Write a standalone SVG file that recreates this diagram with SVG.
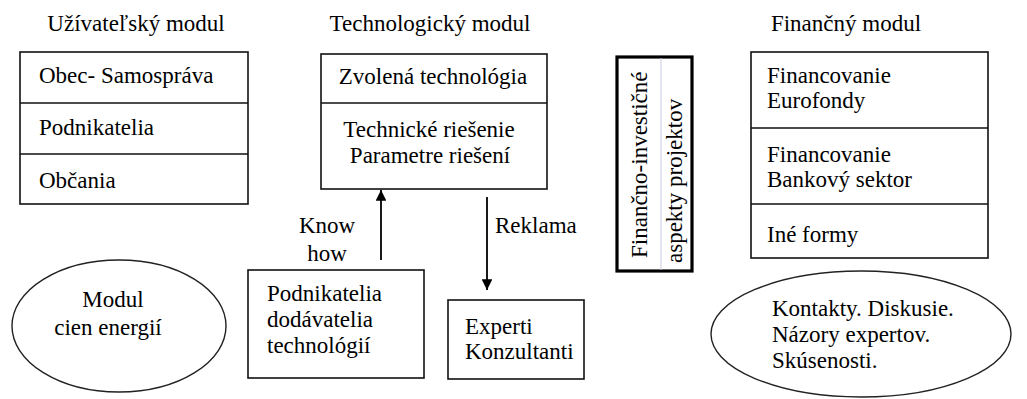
<svg xmlns="http://www.w3.org/2000/svg" width="1027" height="399" viewBox="0 0 1027 399">
  <defs>
    <marker id="head" viewBox="0 0 10 10" refX="10" refY="5" markerWidth="6" markerHeight="6" markerUnits="strokeWidth" orient="auto">
      <path d="M0,0 L10,5 L0,10 z" fill="#000"/>
    </marker>
  </defs>

  <rect width="1027" height="399" fill="#fff"/>

  <!-- module headings -->
  <g id="headings" style="font-family: 'Times New Roman', 'Liberation Serif', serif; font-size: 23px" text-anchor="middle">
    <text x="136" y="31">Užívateľský modul</text>
    <text x="430" y="31">Technologický modul</text>
    <text x="846" y="31">Finančný modul</text>
  </g>

  <!-- user module -->
  <g id="user-module" style="font-family: 'Times New Roman', 'Liberation Serif', serif; font-size: 23px">
    <rect x="20" y="52" width="228" height="152" fill="#fff" stroke="#111" stroke-width="1.6"/>
    <path d="M20,103 H248 M20,154 H248" stroke="#111" stroke-width="1.6"/>
    <text x="39" y="83">Obec- Samospráva</text>
    <text x="39" y="135">Podnikatelia</text>
    <text x="39" y="188">Občania</text>
  </g>

  <!-- technology module -->
  <g id="tech-module" style="font-family: 'Times New Roman', 'Liberation Serif', serif; font-size: 23px" text-anchor="middle">
    <rect x="321" y="54" width="226" height="135" fill="#fff" stroke="#111" stroke-width="1.6"/>
    <path d="M321,103 H547" stroke="#111" stroke-width="1.6"/>
    <text x="433" y="84">Zvolená technológia</text>
    <text x="429" y="137">Technické riešenie</text>
    <text x="430" y="163">Parametre riešení</text>
  </g>

  <!-- finance/investment side label -->
  <g id="finance-aspects" style="font-family: 'Times New Roman', 'Liberation Serif', serif; font-size: 23px">
    <rect x="617" y="57" width="75" height="214" fill="#fff" stroke="#000" stroke-width="3.2"/>
    <path d="M661,58 V270" stroke="#c5cbe0" stroke-width="1"/>
    <text transform="translate(647,258) rotate(-90)">Finančno-investičné</text>
    <text transform="translate(682,263) rotate(-90)">aspekty projektov</text>
  </g>

  <!-- finance module -->
  <g id="finance-module" style="font-family: 'Times New Roman', 'Liberation Serif', serif; font-size: 23px">
    <rect x="751" y="52" width="237" height="206" fill="#fff" stroke="#111" stroke-width="1.6"/>
    <path d="M751,128 H988 M751,204 H988" stroke="#111" stroke-width="1.6"/>
    <text x="767" y="83">Financovanie</text>
    <text x="767" y="108">Eurofondy</text>
    <text x="767" y="162">Financovanie</text>
    <text x="767" y="187">Bankový sektor</text>
    <text x="767" y="242">Iné formy</text>
  </g>

  <!-- energy price module -->
  <g id="energy-prices" style="font-family: 'Times New Roman', 'Liberation Serif', serif; font-size: 23px" text-anchor="middle">
    <ellipse cx="119" cy="326" rx="107" ry="66" fill="#fff" stroke="#222" stroke-width="1.4"/>
    <text x="113" y="307">Modul</text>
    <text x="108" y="335">cien energií</text>
  </g>

  <!-- suppliers -->
  <g id="suppliers" style="font-family: 'Times New Roman', 'Liberation Serif', serif; font-size: 23px">
    <rect x="248" y="270" width="176" height="108" fill="#fff" stroke="#111" stroke-width="1.6"/>
    <text x="267" y="301">Podnikatelia</text>
    <text x="267" y="327">dodávatelia</text>
    <text x="267" y="353">technológií</text>
  </g>

  <!-- experts -->
  <g id="experts" style="font-family: 'Times New Roman', 'Liberation Serif', serif; font-size: 23px">
    <rect x="448" y="300" width="136" height="79" fill="#fff" stroke="#111" stroke-width="1.6"/>
    <text x="465" y="334">Experti</text>
    <text x="465" y="359">Konzultanti</text>
  </g>

  <!-- contacts -->
  <g id="contacts" style="font-family: 'Times New Roman', 'Liberation Serif', serif; font-size: 23px">
    <ellipse cx="861" cy="334" rx="150" ry="63" fill="#fff" stroke="#222" stroke-width="1.4"/>
    <text x="772" y="316">Kontakty. Diskusie.</text>
    <text x="772" y="342">Názory expertov.</text>
    <text x="772" y="368">Skúsenosti.</text>
  </g>

  <!-- connectors -->
  <g id="connectors" style="font-family: 'Times New Roman', 'Liberation Serif', serif; font-size: 23px">
    <line x1="381" y1="260" x2="381" y2="190" stroke="#000" stroke-width="1.8" marker-end="url(#head)"/>
    <line x1="487" y1="197" x2="487" y2="290" stroke="#000" stroke-width="1.8" marker-end="url(#head)"/>
    <text x="327" y="233" text-anchor="middle">Know</text>
    <text x="327" y="261" text-anchor="middle">how</text>
    <text x="495" y="233">Reklama</text>
  </g>
</svg>
